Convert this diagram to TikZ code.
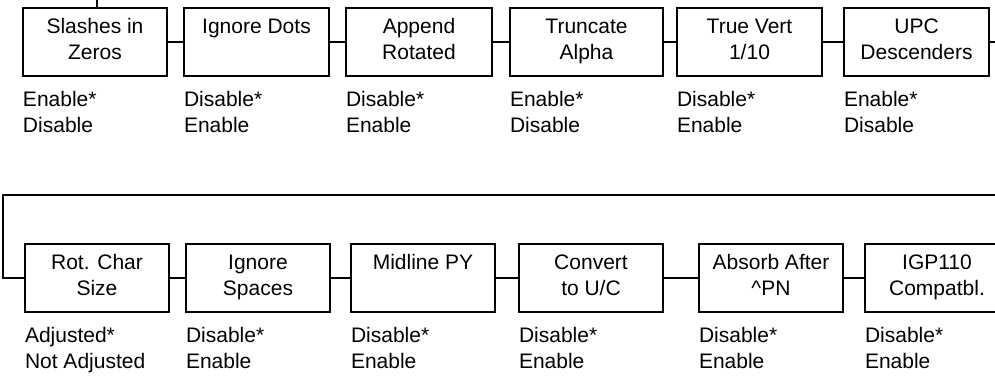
\documentclass[tikz,border=0pt]{standalone}
\usepackage{fontspec}
\setmainfont{Liberation Sans}
\newcommand\bxt[2]{\parbox[t][68pt][t]{#1pt}{\centering\rule{0pt}{25pt}#2}}
\newcommand\optt[2]{\parbox[t]{150pt}{\raggedright\rule{0pt}{15pt}#1\\#2}}
\begin{document}
\begin{tikzpicture}[x=1pt,y=-1pt,line width=1.9pt,
  menubox/.style={draw,inner sep=0pt,outer sep=0pt,anchor=north west,font=\fontsize{21}{26}\selectfont},
  opts/.style={inner sep=0pt,outer sep=0pt,anchor=north west,font=\fontsize{21}{26.5}\selectfont,yshift=-15pt}]
\useasboundingbox (0,0) rectangle (995,375);
% top row
\node[menubox] (s1) at (23,8)  {\bxt{144}{Slashes in\\Zeros}};
\node[menubox] (s2) at (184,8) {\bxt{145}{Ignore Dots}};
\node[menubox] (s3) at (346,8) {\bxt{146}{Append\\Rotated}};
\node[menubox] (s4) at (510,8) {\bxt{153}{Truncate\\Alpha}};
\node[menubox] (s5) at (677,8) {\bxt{145}{True Vert\\1/10}};
\node[menubox] (s6) at (844,8) {\bxt{145}{UPC\\Descenders}};
\node[opts] (o1) at (s1.south west) {\optt{Enable*}{Disable}};
\node[opts] (o2) at (s2.south west) {\optt{Disable*}{Enable}};
\node[opts] (o3) at (s3.south west) {\optt{Disable*}{Enable}};
\node[opts] (o4) at (s4.south west) {\optt{Enable*}{Disable}};
\node[opts] (o5) at (s5.south west) {\optt{Disable*}{Enable}};
\node[opts] (o6) at (s6.south west) {\optt{Enable*}{Disable}};
\coordinate (tin) at (97,0);
\coordinate (tout) at (996,42);
\draw (tin) -- (tin |- s1.north);
\draw (s1) -- (s2);
\draw (s2) -- (s3);
\draw (s3) -- (s4);
\draw (s4) -- (s5);
\draw (s5) -- (s6);
\draw (s6.east) -- (tout);
% bottom row
\node[menubox] (r1) at (25,244)  {\bxt{144}{Rot. Char\\Size}};
\node[menubox] (r2) at (186,244) {\bxt{144}{Ignore\\Spaces}};
\node[menubox] (r3) at (351,244) {\bxt{144}{Midline PY}};
\node[menubox] (r4) at (519,244) {\bxt{144}{Convert\\to U/C}};
\node[menubox] (r5) at (699,244) {\bxt{144}{Absorb After\\\textasciicircum PN}};
\node[menubox] (r6) at (865,244) {\bxt{144}{IGP110\\Compatbl.}};
\node[opts] (p1) at (r1.south west) {\optt{Adjusted*}{Not Adjusted}};
\node[opts] (p2) at (r2.south west) {\optt{Disable*}{Enable}};
\node[opts] (p3) at (r3.south west) {\optt{Disable*}{Enable}};
\node[opts] (p4) at (r4.south west) {\optt{Disable*}{Enable}};
\node[opts] (p5) at (r5.south west) {\optt{Disable*}{Enable}};
\node[opts] (p6) at (r6.south west) {\optt{Disable*}{Enable}};
\coordinate (bin) at (996,195);
\coordinate (bcorner) at (3,195);
\draw (bin) -- (bcorner) -- (bcorner |- r1.west) -- (r1.west);
\draw (r1) -- (r2);
\draw (r2) -- (r3);
\draw (r3) -- (r4);
\draw (r4) -- (r5);
\draw (r5) -- (r6);
\end{tikzpicture}
\end{document}
